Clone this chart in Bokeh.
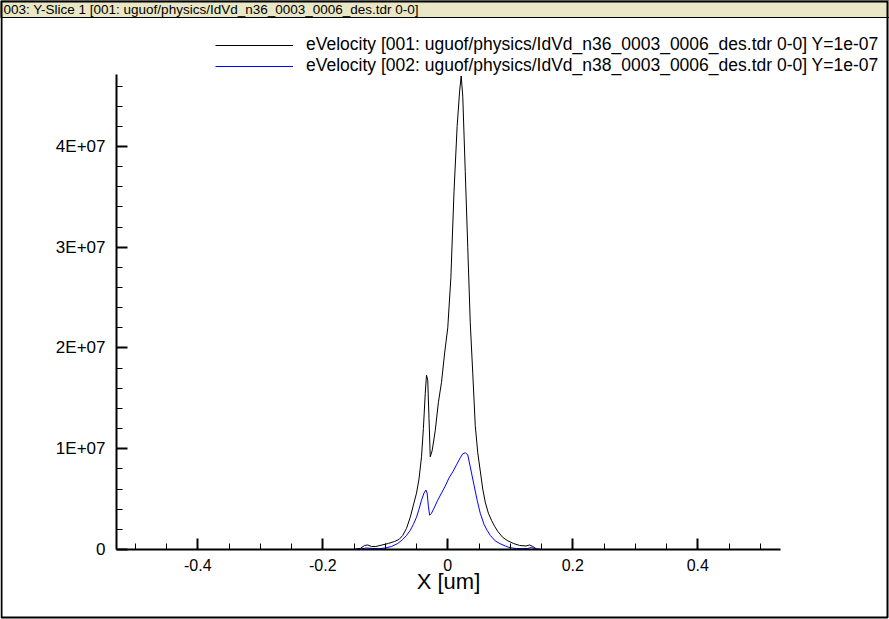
import numpy as np
from bokeh.plotting import figure
from bokeh.models import (Range1d, FixedTicker, Legend, LegendItem, BoxAnnotation, Label,
                          LinearAxis)
from bokeh.embed import file_html
from bokeh.resources import INLINE

# ---- data ----
title_text = "003: Y-Slice 1 [001: uguof/physics/IdVd_n36_0003_0006_des.tdr 0-0]"
label_001 = "eVelocity [001: uguof/physics/IdVd_n36_0003_0006_des.tdr 0-0] Y=1e-07"
label_002 = "eVelocity [002: uguof/physics/IdVd_n38_0003_0006_des.tdr 0-0] Y=1e-07"
x_label = "X [um]"

x_001 = [-0.15, -0.14, -0.133, -0.128, -0.122, -0.115, -0.105, -0.095, -0.085, -0.078,
         -0.072, -0.066, -0.060, -0.055, -0.050, -0.046, -0.042, -0.039, -0.036, -0.034,
         -0.032, -0.030, -0.028, -0.025, -0.020, -0.015, -0.010, -0.005, 0.000, 0.005,
         0.010, 0.015, 0.019, 0.0215, 0.024, 0.028, 0.032, 0.036, 0.040, 0.044,
         0.048, 0.052, 0.056, 0.060, 0.065, 0.070, 0.075, 0.080, 0.088, 0.095,
         0.105, 0.115, 0.125, 0.131, 0.136, 0.142, 0.15]
v_001 = [0.0, 0.1e6, 0.4e6, 0.45e6, 0.3e6, 0.3e6, 0.45e6, 0.6e6, 0.8e6, 1.0e6,
         1.4e6, 2.1e6, 3.2e6, 4.4e6, 5.6e6, 7.0e6, 9.2e6, 12.0e6, 15.5e6, 17.3e6,
         16.8e6, 13.0e6, 9.2e6, 9.8e6, 11.8e6, 14.6e6, 16.6e6, 19.5e6, 22.0e6, 27.0e6,
         35.5e6, 42.0e6, 45.5e6, 47.0e6, 45.0e6, 37.5e6, 30.0e6, 22.5e6, 17.5e6, 12.3e6,
         9.6e6, 7.8e6, 6.0e6, 4.7e6, 3.6e6, 2.9e6, 2.3e6, 1.8e6, 1.2e6, 0.9e6,
         0.6e6, 0.4e6, 0.35e6, 0.45e6, 0.3e6, 0.05e6, 0.0]

x_002 = [-0.15, -0.14, -0.13, -0.12, -0.11, -0.10, -0.09, -0.08, -0.072, -0.066,
         -0.060, -0.055, -0.050, -0.046, -0.042, -0.038, -0.035, -0.033, -0.031, -0.029,
         -0.026, -0.022, -0.016, -0.010, -0.004, 0.002, 0.008, 0.014, 0.020, 0.024,
         0.028, 0.032, 0.036, 0.042, 0.047, 0.052, 0.058, 0.063, 0.068, 0.076,
         0.084, 0.092, 0.100, 0.110, 0.120, 0.128, 0.134, 0.140, 0.15]
v_002 = [0.0, 0.05e6, 0.15e6, 0.1e6, 0.08e6, 0.15e6, 0.3e6, 0.6e6, 1.0e6, 1.4e6,
         1.9e6, 2.5e6, 3.2e6, 4.0e6, 4.9e6, 5.6e6, 5.9e6, 5.6e6, 4.3e6, 3.4e6,
         3.6e6, 4.1e6, 4.9e6, 5.6e6, 6.3e6, 7.1e6, 7.7e6, 8.4e6, 9.1e6, 9.5e6,
         9.6e6, 9.4e6, 8.2e6, 6.4e6, 4.9e6, 3.6e6, 2.5e6, 1.9e6, 1.4e6, 0.85e6,
         0.57e6, 0.35e6, 0.17e6, 0.1e6, 0.08e6, 0.1e6, 0.2e6, 0.05e6, 0.0]

x_ticks = [-0.4, -0.2, 0.0, 0.2, 0.4]
x_tick_labels = ["-0.4", "-0.2", "0", "0.2", "0.4"]
y_ticks = [0, 1e7, 2e7, 3e7, 4e7]
y_tick_labels = ["0", "1E+07", "2E+07", "3E+07", "4E+07"]
x_axis_bounds = (-0.53, 0.533)
y_axis_bounds = (0, 4.715e7)

FONT = "Liberation Sans"
W, H = 889, 619

# plot area spans the whole canvas; axes are placed at fixed data locations
p = figure(width=W, height=H, output_backend="svg", toolbar_location=None,
           x_range=Range1d(-0.7156, 0.7068), y_range=Range1d(-0.6948e7, 5.4491e7),
           min_border=0, x_axis_type=None, y_axis_type=None,
           background_fill_color="white", border_fill_color="white")
p.outline_line_color = None

xa = LinearAxis(fixed_location=0, bounds=x_axis_bounds)
xa.ticker = FixedTicker(ticks=x_ticks, minor_ticks=list(np.round(np.arange(-0.5, 0.5001, 0.05), 3)))
xa.major_label_overrides = {t: s for t, s in zip(x_ticks, x_tick_labels)}
ya = LinearAxis(fixed_location=x_axis_bounds[0], bounds=y_axis_bounds)
ya.ticker = FixedTicker(ticks=y_ticks, minor_ticks=list(np.arange(0, 4.7e7, 2e6)))
ya.major_label_overrides = {t: s for t, s in zip(y_ticks, y_tick_labels)}
for ax in (xa, ya):
    ax.axis_line_width = 2
    ax.axis_line_color = "black"
    ax.major_tick_in = 11
    ax.major_tick_out = 0
    ax.minor_tick_in = 6
    ax.minor_tick_out = 0
    ax.major_tick_line_width = 2
    ax.major_tick_line_color = "black"
    ax.minor_tick_line_color = "black"
    ax.major_label_text_font = FONT
    ax.major_label_text_color = "black"
xa.major_label_standoff = 10
xa.major_label_text_font_size = "16px"
xa.axis_label = x_label
xa.axis_label_text_font = FONT
xa.axis_label_text_font_size = "22px"
xa.axis_label_text_font_style = "normal"
xa.axis_label_text_color = "black"
xa.axis_label_standoff = -6
ya.major_label_standoff = 11
ya.major_label_text_font_size = "17px"
p.add_layout(xa, "below")
p.add_layout(ya, "left")

r1 = p.line(x_001, v_001, line_color="black", line_width=1)
r2 = p.line(x_002, v_002, line_color="#0000ff", line_width=1)

legend = Legend(items=[LegendItem(label=label_001, renderers=[r1]),
                       LegendItem(label=label_002, renderers=[r2])],
                location=(215, 543), orientation="vertical",
                border_line_color=None, background_fill_alpha=0,
                glyph_width=78, glyph_height=18, label_height=18,
                label_standoff=13, spacing=0, padding=0, margin=0,
                label_text_font=FONT, label_text_font_size="17.5px",
                label_text_color="black", label_text_line_height=1.0)
p.add_layout(legend, "center")

# window frame: title bar and border
bar = BoxAnnotation(left=0, right=W, top=0, bottom=17,
                    left_units="canvas", right_units="canvas",
                    top_units="canvas", bottom_units="canvas",
                    fill_color="#e9e7c5", fill_alpha=1.0,
                    line_color="black", line_alpha=1.0, line_width=1)
p.add_layout(bar)
p.add_layout(Label(x=3, y=9, x_units="canvas", y_units="canvas", text=title_text,
                   text_baseline="middle", text_align="left",
                   text_font=FONT, text_font_size="13.5px", text_color="black"))
border = BoxAnnotation(left=1, right=W - 2, top=1, bottom=H - 2,
                       left_units="canvas", right_units="canvas",
                       top_units="canvas", bottom_units="canvas",
                       fill_alpha=0, line_color="black", line_alpha=1.0, line_width=2)
p.add_layout(border)

open("out.html", "w").write(file_html(p, INLINE))
